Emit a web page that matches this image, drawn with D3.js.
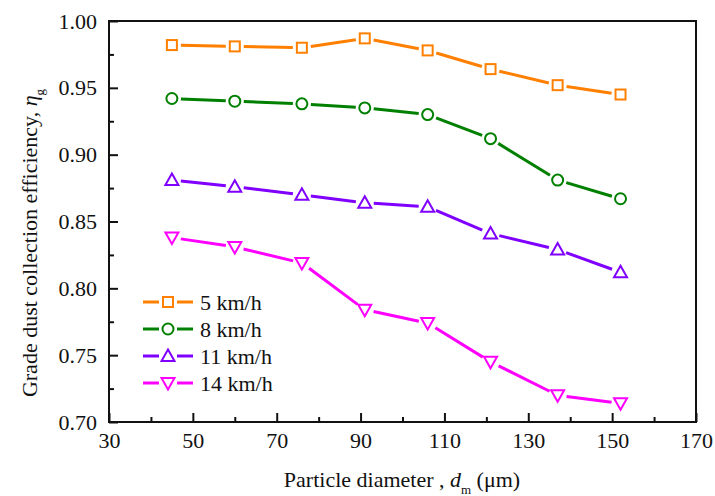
<!DOCTYPE html>
<html><head><meta charset="utf-8">
<script src="https://cdn.jsdelivr.net/npm/d3@7"></script>
</head>
<body style="margin:0">
<svg id="chart" width="715" height="496" font-family="Liberation Serif"></svg>
<script>
const diameters = [45, 60, 76, 91, 106, 121, 137, 152];
const seriesNames = ["5 km/h", "8 km/h", "11 km/h", "14 km/h"];
const eff5  = [0.982, 0.981, 0.980, 0.987, 0.978, 0.964, 0.952, 0.945];
const eff8  = [0.942, 0.940, 0.938, 0.935, 0.930, 0.912, 0.881, 0.867];
const eff11 = [0.881, 0.876, 0.870, 0.864, 0.861, 0.841, 0.829, 0.812];
const eff14 = [0.838, 0.831, 0.819, 0.784, 0.774, 0.745, 0.720, 0.714];
const xTicks = [30, 50, 70, 90, 110, 130, 150, 170];
const yTicks = [0.70, 0.75, 0.80, 0.85, 0.90, 0.95, 1.00];

const colors = ["#FF8000", "#008000", "#8000FF", "#FF00FF"];
const shapes = ["square", "circle", "up", "down"];
const allSeries = [eff5, eff8, eff11, eff14];

const FONT = "Liberation Serif";
const FS = 22;
const INK = "#111";

const svg = d3.select("#chart");
const L = 109, R = 696, T = 21, B = 422;
const x = d3.scaleLinear().domain([30, 170]).range([L, R]);
const y = d3.scaleLinear().domain([0.70, 1.00]).range([B, T]);

const xMinor = d3.range(40, 170, 20);
const yMinor = d3.range(0.725, 1.0, 0.05);

const g = svg.append("g");

function styleText(sel) {
  sel.attr("font-family", FONT).style("font-family", FONT).attr("font-size", FS).attr("fill", INK);
}

// x axis
const xa = g.append("g").attr("transform", `translate(0,${B})`)
  .call(d3.axisBottom(x).tickValues(xTicks).tickSize(-9).tickPadding(10).tickFormat(d3.format("d")));
xa.attr("font-family", FONT).attr("font-size", FS);
xa.selectAll(".tick line").attr("stroke", INK).attr("stroke-width", 2);
xa.selectAll("text").call(styleText).attr("dy", "0.71em");
xa.select(".domain").remove();
g.append("g").attr("transform", `translate(0,${B})`)
  .call(d3.axisBottom(x).tickValues(xMinor).tickSize(-5).tickFormat(""))
  .call(s => { s.select(".domain").remove(); s.selectAll("line").attr("stroke", INK).attr("stroke-width", 2); });

// y axis
const ya = g.append("g").attr("transform", `translate(${L},0)`)
  .call(d3.axisLeft(y).tickValues(yTicks).tickSize(-9).tickPadding(12).tickFormat(d3.format(".2f")));
ya.attr("font-family", FONT).attr("font-size", FS);
ya.selectAll(".tick line").attr("stroke", INK).attr("stroke-width", 2);
ya.selectAll("text").call(styleText);
ya.select(".domain").remove();
g.append("g").attr("transform", `translate(${L},0)`)
  .call(d3.axisLeft(y).tickValues(yMinor).tickSize(-5).tickFormat(""))
  .call(s => { s.select(".domain").remove(); s.selectAll("line").attr("stroke", INK).attr("stroke-width", 2); });

// frame
g.append("rect").attr("x", L).attr("y", T).attr("width", R - L).attr("height", B - T)
  .attr("fill", "none").attr("stroke", INK).attr("stroke-width", 2);

function drawMarker(sel, shape, color, cx, cy) {
  if (shape === "square") {
    sel.append("rect").attr("x", cx - 5).attr("y", cy - 5).attr("width", 10).attr("height", 10)
      .attr("fill", "#fff").attr("stroke", color).attr("stroke-width", 2);
  } else if (shape === "circle") {
    sel.append("circle").attr("cx", cx).attr("cy", cy).attr("r", 5.5)
      .attr("fill", "#fff").attr("stroke", color).attr("stroke-width", 2);
  } else if (shape === "up") {
    sel.append("path").attr("d", `M${cx},${cy - 6.5}L${cx + 6.5},${cy + 5}L${cx - 6.5},${cy + 5}Z`)
      .attr("fill", "#fff").attr("stroke", color).attr("stroke-width", 2);
  } else {
    sel.append("path").attr("d", `M${cx},${cy + 6.5}L${cx + 6.5},${cy - 5}L${cx - 6.5},${cy - 5}Z`)
      .attr("fill", "#fff").attr("stroke", color).attr("stroke-width", 2);
  }
}

const gap = 9;
allSeries.forEach((vals, si) => {
  const sg = g.append("g");
  const pts = diameters.map((d, i) => [x(d), y(vals[i])]);
  for (let i = 0; i < pts.length - 1; i++) {
    const [x1, y1] = pts[i], [x2, y2] = pts[i + 1];
    const len = Math.hypot(x2 - x1, y2 - y1);
    const ux = (x2 - x1) / len, uy = (y2 - y1) / len;
    sg.append("line")
      .attr("x1", x1 + ux * gap).attr("y1", y1 + uy * gap)
      .attr("x2", x2 - ux * gap).attr("y2", y2 - uy * gap)
      .attr("stroke", colors[si]).attr("stroke-width", 3);
  }
  pts.forEach(p => drawMarker(sg, shapes[si], colors[si], p[0], p[1]));
});

// legend
const leg = g.append("g");
seriesNames.forEach((name, i) => {
  const ly = 302 + i * 27;
  leg.append("line").attr("x1", 143).attr("x2", 159).attr("y1", ly).attr("y2", ly)
    .attr("stroke", colors[i]).attr("stroke-width", 3);
  leg.append("line").attr("x1", 177).attr("x2", 193).attr("y1", ly).attr("y2", ly)
    .attr("stroke", colors[i]).attr("stroke-width", 3);
  drawMarker(leg, shapes[i], colors[i], 168, ly);
  leg.append("text").attr("x", 200).attr("y", ly + 7.5).call(styleText).text(name);
});

// axis titles
const xt = svg.append("text").attr("x", 402).attr("y", 487).attr("text-anchor", "middle").call(styleText);
xt.append("tspan").text("Particle diameter , ");
xt.append("tspan").style("font-style", "italic").text("d");
xt.append("tspan").attr("font-size", 13).attr("dy", 7).text("m");
xt.append("tspan").attr("dy", -7).text(" (μm)");

const yt = svg.append("text").attr("transform", "translate(37,243) rotate(-90)")
  .attr("text-anchor", "middle").call(styleText);
yt.append("tspan").text("Grade dust collection efficiency, ");
yt.append("tspan").style("font-style", "italic").text("η");
yt.append("tspan").attr("font-size", 13).attr("dy", 7).text("g");
</script>
</body></html>
